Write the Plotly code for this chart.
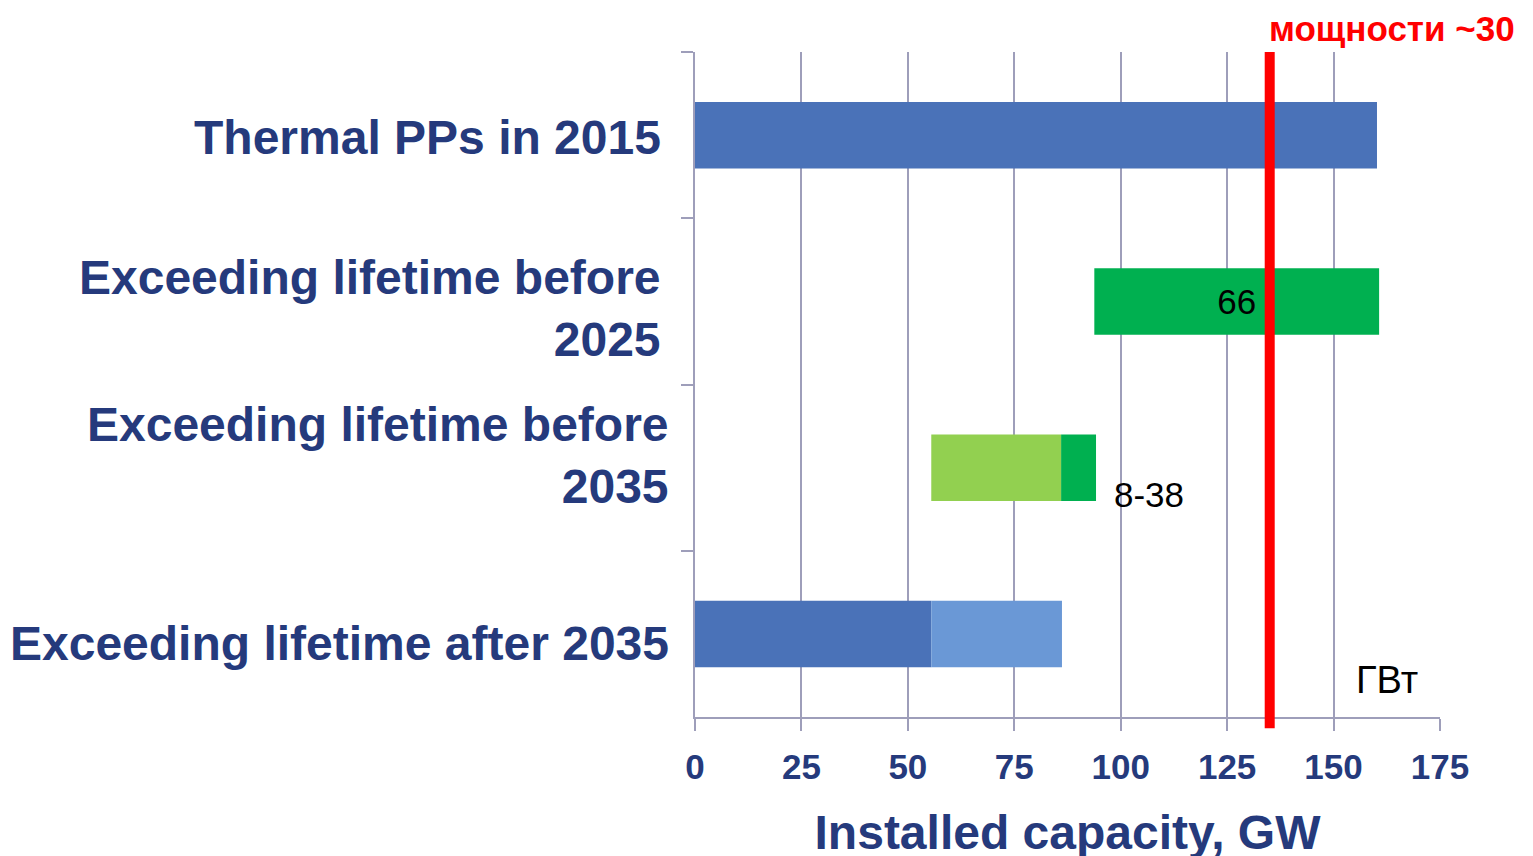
import plotly.graph_objects as go

# ---- data ----
categories = ["Thermal PPs in 2015", "Exceeding lifetime before 2025",
              "Exceeding lifetime before 2035", "Exceeding lifetime after 2035"]
label_lines = ["Thermal PPs in 2015", "Exceeding lifetime before<br>2025",
               "Exceeding lifetime before<br>2035", "Exceeding lifetime after 2035"]

# primary segments (start, end) per category
primary_start = [0, 93.8, 55.5, 0]
primary_end = [160.2, 160.7, 86.0, 55.5]
# secondary segments per category (None = no segment)
secondary_start = [None, None, 86.0, 55.5]
secondary_end = [None, None, 94.2, 86.2]

bar_text = ["", "66", "", ""]
range_label = "8-38"
threshold = 135
threshold_label = "мощности ~30"
unit_label = "ГВт"
x_ticks = [0, 25, 50, 75, 100, 125, 150, 175]

# ---- styles ----
primary_colors = ["#4a72b8", "#00b050", "#92d050", "#4a72b8"]
secondary_colors = ["#ffffff", "#ffffff", "#00b050", "#6a98d6"]
navy = "#253a7c"
grid = "#9e9eba"
FONT = "Liberation Sans, Arial"

fig = go.Figure()
fig.add_trace(go.Bar(
    y=categories, x=[e - s for s, e in zip(primary_start, primary_end)],
    base=primary_start, orientation="h", width=0.4,
    marker=dict(color=primary_colors, line=dict(width=0)),
    text=bar_text, textposition="inside", insidetextanchor="middle",
    textfont=dict(family=FONT, size=35, color="black"),
    showlegend=False, hoverinfo="skip"))

sec_y = [c for c, s in zip(categories, secondary_start) if s is not None]
sec_b = [s for s in secondary_start if s is not None]
sec_x = [e - s for s, e in zip(secondary_start, secondary_end) if s is not None]
sec_c = [c for c, s in zip(secondary_colors, secondary_start) if s is not None]
fig.add_trace(go.Bar(
    y=sec_y, x=sec_x, base=sec_b, orientation="h", width=0.4,
    marker=dict(color=sec_c, line=dict(width=0)),
    showlegend=False, hoverinfo="skip"))

# threshold line
fig.add_shape(type="line", xref="x", yref="paper", x0=threshold, x1=threshold,
              y0=-0.017, y1=1, line=dict(color="#ff0000", width=10), layer="above")

annotations = []
label_shift = [(-32, -2), (-32, -7), (-24, 12), (-24, -10)]
for cat, lab, (xs, ys) in zip(categories, label_lines, label_shift):
    annotations.append(dict(
        x=0, xref="paper", y=cat, yref="y", xanchor="right", yanchor="middle",
        xshift=xs, yshift=ys, text=lab, align="right", showarrow=False,
        font=dict(family=FONT, size=48, color=navy, weight="bold")))

annotations.append(dict(
    x=secondary_end[2], xref="x", y=categories[2], yref="y", xanchor="left",
    yanchor="middle", xshift=16, yshift=-27, text=range_label, showarrow=False,
    font=dict(family=FONT, size=35, color="black")))
annotations.append(dict(
    x=threshold, xref="x", y=1, yref="paper", xanchor="left", yanchor="bottom",
    xshift=-3, yshift=2, text=threshold_label, showarrow=False,
    font=dict(family=FONT, size=35, color="#ff0000", weight="bold")))
annotations.append(dict(
    x=1, xref="paper", y=0, yref="paper", xanchor="right", yanchor="bottom",
    xshift=-20, yshift=14, text=unit_label, showarrow=False,
    font=dict(family=FONT, size=38, color="black")))

fig.update_layout(
    width=1533, height=856,
    margin=dict(l=687, r=101, t=44, b=147),
    paper_bgcolor="white", plot_bgcolor="white",
    barmode="overlay",
    annotations=annotations,
    xaxis=dict(range=[0, 175], tickvals=x_ticks, showgrid=True, gridcolor=grid,
               gridwidth=2, zeroline=False, showline=True, linecolor=grid, linewidth=2,
               ticks="outside", ticklen=12, tickwidth=2, tickcolor=grid,
               ticklabelstandoff=6,
               tickfont=dict(family=FONT, size=35, color=navy, weight="bold"),
               title=dict(text="Installed capacity, GW", standoff=30,
                          font=dict(family=FONT, size=48, color=navy, weight="bold"))),
    yaxis=dict(categoryorder="array", categoryarray=categories,
               range=[3.5, -0.5], showticklabels=False, showgrid=False,
               showline=True, linecolor=grid, linewidth=2, zeroline=False,
               ticks="outside", tickson="boundaries", ticklen=12, tickwidth=2,
               tickcolor=grid),
)

fig.write_html("out.html")
